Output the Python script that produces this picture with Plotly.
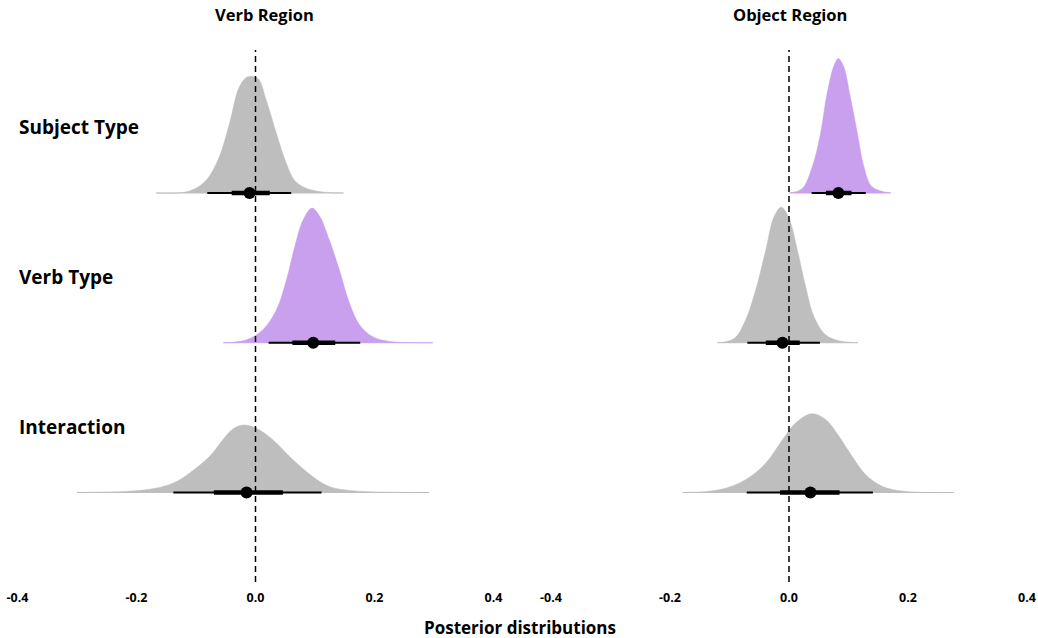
import plotly.graph_objects as go

# ---------------- data ----------------
terms = ["Subject Type", "Verb Type", "Interaction"]
term_rows = [3, 2, 1]
regions = ["Verb Region", "Object Region"]
tick_vals = [-0.4, -0.2, 0.0, 0.2, 0.4]
tick_text = ["-0.4", "-0.2", "0.0", "0.2", "0.4"]

# Verb region: medians and 66% / 95% intervals
verb_median = [-0.010, 0.097, -0.015]
verb_66_lo = [-0.040, 0.062, -0.070]
verb_66_hi = [0.024, 0.134, 0.046]
verb_95_lo = [-0.081, 0.022, -0.138]
verb_95_hi = [0.060, 0.176, 0.111]

# Object region: medians and 66% / 95% intervals
object_median = [0.083, -0.011, 0.036]
object_66_lo = [0.062, -0.039, -0.015]
object_66_hi = [0.105, 0.018, 0.085]
object_95_lo = [0.038, -0.070, -0.071]
object_95_hi = [0.129, 0.052, 0.141]

# Posterior density outlines (x, scaled height)
verb_subj_x = [-0.167, -0.111, -0.083, -0.061, -0.044, -0.027, -0.013, 0.004, 0.018, 0.035, 0.052, 0.068, 0.096, 0.148]
verb_subj_h = [0.0, 0.013, 0.085, 0.24, 0.46, 0.71, 0.776, 0.765, 0.62, 0.40, 0.196, 0.074, 0.018, 0.0]
verb_verb_x = [-0.054, -0.016, 0.012, 0.035, 0.052, 0.066, 0.080, 0.095, 0.108, 0.124, 0.141, 0.158, 0.175, 0.197, 0.225, 0.298]
verb_verb_h = [0.0, 0.018, 0.085, 0.218, 0.419, 0.642, 0.82, 0.899, 0.843, 0.687, 0.486, 0.263, 0.118, 0.04, 0.009, 0.0]
verb_int_x = [-0.300, -0.184, -0.139, -0.111, -0.077, -0.055, -0.038, -0.021, 0.001, 0.029, 0.063, 0.096, 0.124, 0.164, 0.292]
verb_int_h = [0.0, 0.018, 0.062, 0.129, 0.241, 0.352, 0.424, 0.45, 0.43, 0.352, 0.218, 0.107, 0.04, 0.011, 0.0]

object_subj_x = [0.001, 0.022, 0.039, 0.053, 0.064, 0.076, 0.083, 0.092, 0.103, 0.115, 0.126, 0.140, 0.171]
object_subj_h = [0.0, 0.029, 0.174, 0.397, 0.664, 0.854, 0.899, 0.843, 0.642, 0.397, 0.174, 0.04, 0.0]
object_verb_x = [-0.120, -0.092, -0.073, -0.056, -0.039, -0.025, -0.013, 0.000, 0.014, 0.028, 0.042, 0.062, 0.084, 0.116]
object_verb_h = [0.0, 0.029, 0.152, 0.352, 0.62, 0.843, 0.905, 0.832, 0.62, 0.375, 0.174, 0.051, 0.013, 0.0]
object_int_x = [-0.179, -0.117, -0.073, -0.039, -0.011, 0.011, 0.038, 0.062, 0.084, 0.106, 0.129, 0.157, 0.196, 0.277]
object_int_h = [0.0, 0.018, 0.085, 0.196, 0.352, 0.464, 0.526, 0.486, 0.375, 0.241, 0.118, 0.04, 0.007, 0.0]

# ---------------- styling ----------------
GRAY = "#BEBEBE"
PURPLE = "#C8A0EE"
FONT = "Open Sans"

panels = [
    dict(xa="x", ya="y", median=verb_median, lo66=verb_66_lo, hi66=verb_66_hi,
         lo95=verb_95_lo, hi95=verb_95_hi,
         dens=[(verb_subj_x, verb_subj_h), (verb_verb_x, verb_verb_h), (verb_int_x, verb_int_h)]),
    dict(xa="x2", ya="y2", median=object_median, lo66=object_66_lo, hi66=object_66_hi,
         lo95=object_95_lo, hi95=object_95_hi,
         dens=[(object_subj_x, object_subj_h), (object_verb_x, object_verb_h), (object_int_x, object_int_h)]),
]

fig = go.Figure()

for p in panels:
    for i, row in enumerate(term_rows):
        dx, dh = p["dens"][i]
        sig = p["lo95"][i] > 0 or p["hi95"][i] < 0
        col = PURPLE if sig else GRAY
        # baseline
        fig.add_trace(go.Scatter(x=[dx[0], dx[-1]], y=[row, row], mode="lines",
                                 line=dict(color=col, width=1), xaxis=p["xa"], yaxis=p["ya"],
                                 hoverinfo="skip", showlegend=False))
        # slab
        fig.add_trace(go.Scatter(x=dx, y=[row + h for h in dh], mode="lines",
                                 line=dict(color=col, width=0.5, shape="spline", smoothing=1.0),
                                 fill="tonexty", fillcolor=col,
                                 xaxis=p["xa"], yaxis=p["ya"], hoverinfo="skip", showlegend=False))
    for i, row in enumerate(term_rows):
        # 95% interval
        fig.add_trace(go.Scatter(x=[p["lo95"][i], p["hi95"][i]], y=[row, row], mode="lines",
                                 line=dict(color="black", width=2), xaxis=p["xa"], yaxis=p["ya"],
                                 hoverinfo="skip", showlegend=False))
        # 66% interval
        fig.add_trace(go.Scatter(x=[p["lo66"][i], p["hi66"][i]], y=[row, row], mode="lines",
                                 line=dict(color="black", width=4.5), xaxis=p["xa"], yaxis=p["ya"],
                                 hoverinfo="skip", showlegend=False))
        # median point
        fig.add_trace(go.Scatter(x=[p["median"][i]], y=[row], mode="markers",
                                 marker=dict(color="black", size=12), xaxis=p["xa"], yaxis=p["ya"],
                                 hoverinfo="skip", showlegend=False))
    # zero reference line
    fig.add_shape(type="line", x0=0, x1=0, y0=0, y1=1, xref=p["xa"], yref=p["ya"] + " domain",
                  line=dict(color="black", width=1.5, dash="6px,4px"))

W, H = 1038, 638
MT, MB = 50, 56
PH = H - MT - MB
left_dom = [17.5 / W, 493.5 / W]
right_dom = [551 / W, 1027 / W]
yrange = [0.402, 3.955]

axis_common = dict(range=[-0.4, 0.4], tickvals=tick_vals, ticktext=tick_text, showgrid=False,
                   zeroline=False, showline=False, ticks="", automargin=False,
                   ticklabelstandoff=6,
                   tickfont=dict(family=FONT, size=12.5, color="black", weight="bold"))
yaxis_common = dict(range=yrange, showticklabels=False, showgrid=False, zeroline=False,
                    showline=False, ticks="", automargin=False)

fig.update_layout(
    width=W, height=H,
    margin=dict(l=0, r=0, t=MT, b=MB, autoexpand=False),
    plot_bgcolor="white", paper_bgcolor="white",
    xaxis=dict(domain=left_dom, anchor="y", **axis_common),
    xaxis2=dict(domain=right_dom, anchor="y2", **axis_common),
    yaxis=dict(domain=[0, 1], anchor="x", **yaxis_common),
    yaxis2=dict(domain=[0, 1], anchor="x2", **yaxis_common),
    showlegend=False,
)

# panel titles
for name, cx in zip(regions, [264, 790]):
    fig.add_annotation(text=name, x=cx / W, y=1 + (MT - 15) / PH, xref="paper", yref="paper",
                       xanchor="center", yanchor="middle", showarrow=False,
                       font=dict(family=FONT, size=16.5, color="black", weight="bold"))

# row labels
for name, row in zip(terms, term_rows):
    fig.add_annotation(text=name, x=17 / W, y=row + 0.44, xref="paper", yref="y",
                       xanchor="left", yanchor="middle", showarrow=False,
                       font=dict(family=FONT, size=19, color="black", weight="bold"))

# x axis title
fig.add_annotation(text="Posterior distributions", x=520 / W, y=-(627 - (H - MB)) / PH,
                   xref="paper", yref="paper", xanchor="center", yanchor="middle", showarrow=False,
                   font=dict(family=FONT, size=17, color="black", weight="bold"))

fig.write_html("out.html")
